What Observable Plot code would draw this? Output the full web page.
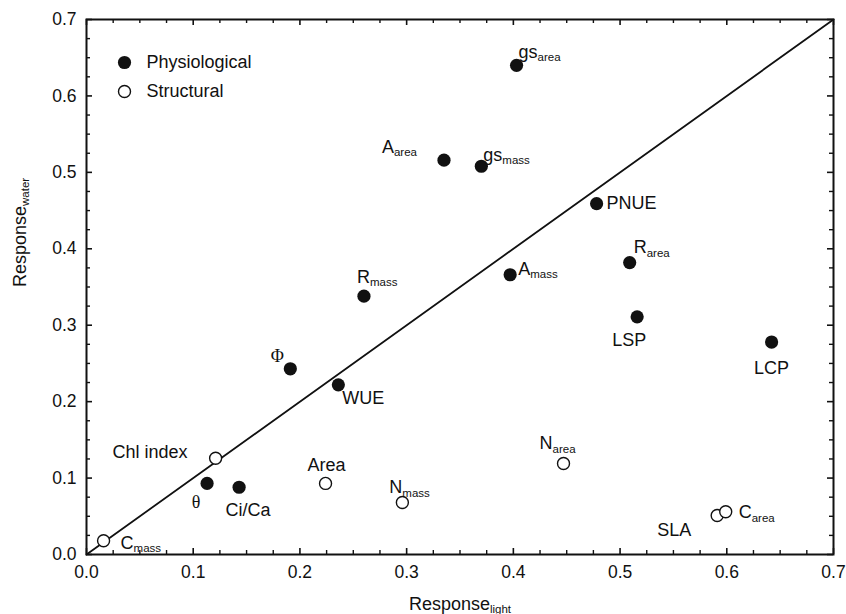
<!DOCTYPE html>
<html>
<head>
<meta charset="utf-8">
<script src="https://cdn.jsdelivr.net/npm/d3@7"></script>
<script src="https://cdn.jsdelivr.net/npm/@observablehq/plot@0.6"></script>
<style>
  body { margin: 0; background: #fff; }
  #chart svg { display: block; }
</style>
</head>
<body>
<div id="chart"></div>
<script>
// ---- data ----
const traits = ["gs_area", "A_area", "gs_mass", "PNUE", "R_area", "A_mass", "R_mass", "LSP", "LCP",
  "Φ", "WUE", "Chl index", "θ", "Ci/Ca", "Area", "N_mass", "C_mass", "N_area", "SLA", "C_area"];
const responseLight = [0.403, 0.335, 0.370, 0.478, 0.509, 0.397, 0.260, 0.516, 0.642,
  0.191, 0.236, 0.121, 0.113, 0.143, 0.224, 0.296, 0.016, 0.447, 0.591, 0.599];
const responseWater = [0.640, 0.516, 0.508, 0.459, 0.382, 0.366, 0.338, 0.311, 0.278,
  0.243, 0.222, 0.126, 0.093, 0.088, 0.093, 0.068, 0.018, 0.119, 0.051, 0.056];
const traitType = ["Physiological", "Physiological", "Physiological", "Physiological", "Physiological",
  "Physiological", "Physiological", "Physiological", "Physiological", "Physiological", "Physiological",
  "Structural", "Physiological", "Physiological", "Structural", "Structural", "Structural",
  "Structural", "Structural", "Structural"];
const legendItems = ["Physiological", "Structural"];
const axisTicks = [0, 0.1, 0.2, 0.3, 0.4, 0.5, 0.6, 0.7];
const minorTicks = [0.025, 0.05, 0.075, 0.125, 0.15, 0.175, 0.225, 0.25, 0.275, 0.325, 0.35, 0.375,
  0.425, 0.45, 0.475, 0.525, 0.55, 0.575, 0.625, 0.65, 0.675];
const xTitle = "Response_light";
const yTitle = "Response_water";
const serifLabels = ["Φ", "θ"];

// ---- label layout (text anchor, dx, dy in px relative to the point) ----
const labelLayout = {
  "gs_area": ["start", 2, -13],
  "A_area": ["end", -27, -13],
  "gs_mass": ["start", 2, -11],
  "PNUE": ["start", 10, 0],
  "R_area": ["start", 4, -15],
  "A_mass": ["start", 8, -6],
  "R_mass": ["start", -7, -19],
  "LSP": ["middle", -8, 23],
  "LCP": ["middle", 0, 26],
  "Φ": ["middle", -13, -13],
  "WUE": ["start", 4, 13],
  "Chl index": ["end", -28, -6],
  "θ": ["middle", -11, 19],
  "Ci/Ca": ["middle", 9, 23],
  "Area": ["middle", 1, -18],
  "N_mass": ["start", -13, -15],
  "C_mass": ["start", 17, 2],
  "N_area": ["start", -24, -20],
  "SLA": ["end", -26, 15],
  "C_area": ["start", 13, 1]
};

const rows = traits.map((t, i) => ({trait: t, light: responseLight[i], water: responseWater[i], type: traitType[i]}));
const domain = [axisTicks[0], axisTicks[axisTicks.length - 1]];
const font = "'Liberation Sans', Arial, Helvetica, sans-serif";
const serif = "'Liberation Serif', 'DejaVu Serif', serif";
const ink = "#111";
const labelSize = 18;
const subSize = 11.5;

const W = 846, H = 614, mL = 86, mR = 13, mT = 19, mB = 60;
const innerW = W - mL - mR, innerH = H - mT - mB;
const majorLen = 6, minorLen = 4;

const labelMarks = rows.map(r => {
  const [anchor, dx, dy] = labelLayout[r.trait];
  return Plot.text([r], {x: "light", y: "water", text: "trait", textAnchor: anchor, dx, dy,
    lineAnchor: "middle", fontSize: labelSize, fill: ink,
    fontFamily: serifLabels.includes(r.trait) ? serif : font});
});

// inward ticks on all four sides
const tickMarks = [];
for (const [vals, len, sw] of [[axisTicks, majorLen, 1.6], [minorTicks, minorLen, 1.4]]) {
  tickMarks.push(
    Plot.tickX(vals, {x: d => d, insetTop: innerH - len, stroke: ink, strokeWidth: sw}),      // bottom
    Plot.tickX(vals, {x: d => d, insetBottom: innerH - len, stroke: ink, strokeWidth: sw}),   // top
    Plot.tickY(vals, {y: d => d, insetRight: innerW - len, stroke: ink, strokeWidth: sw}),    // left
    Plot.tickY(vals, {y: d => d, insetLeft: innerW - len, stroke: ink, strokeWidth: sw})      // right
  );
}

const plot = Plot.plot({
  width: W,
  height: H,
  marginLeft: mL,
  marginRight: mR,
  marginTop: mT,
  marginBottom: mB,
  style: {fontFamily: font, fontSize: "17.5px", color: ink, background: "white", overflow: "visible"},
  x: {domain},
  y: {domain},
  marks: [
    // diagonal 1:1 line
    Plot.line(domain.map(v => [v, v]), {stroke: ink, strokeWidth: 1.8}),
    // tick labels
    Plot.axisX({ticks: axisTicks, tickSize: 0, tickPadding: 11, tickFormat: ".1f", label: null, fontSize: 17.5}),
    Plot.axisY({ticks: axisTicks, tickSize: 0, tickPadding: 10, tickFormat: ".1f", label: null, fontSize: 17.5}),
    ...tickMarks,
    Plot.frame({stroke: ink, strokeWidth: 2}),
    // axis titles
    Plot.text([xTitle], {text: d => d, frameAnchor: "bottom", dy: 50, lineAnchor: "middle", fontSize: labelSize, fill: ink}),
    Plot.text([yTitle], {text: d => d, frameAnchor: "left", dx: -66, rotate: -90, lineAnchor: "middle", fontSize: labelSize, fill: ink}),
    // points
    Plot.dot(rows, {x: "light", y: "water", filter: d => d.type === legendItems[0], r: 6.6, fill: ink, stroke: "none"}),
    Plot.dot(rows, {x: "light", y: "water", filter: d => d.type === legendItems[1], r: 6, fill: "white", stroke: ink, strokeWidth: 1.4}),
    // labels
    ...labelMarks,
    // legend
    Plot.dot([legendItems[0]], {frameAnchor: "top-left", dx: 38, dy: 43, r: 6.6, fill: ink, stroke: "none"}),
    Plot.dot([legendItems[1]], {frameAnchor: "top-left", dx: 38, dy: 72, r: 6, fill: "white", stroke: ink, strokeWidth: 1.4}),
    Plot.text([legendItems[0]], {text: d => d, frameAnchor: "top-left", dx: 60, dy: 43, textAnchor: "start", lineAnchor: "middle", fontSize: labelSize, fill: ink}),
    Plot.text([legendItems[1]], {text: d => d, frameAnchor: "top-left", dx: 60, dy: 72, textAnchor: "start", lineAnchor: "middle", fontSize: labelSize, fill: ink})
  ]
});

// subscripts: "main_sub" -> main + smaller lowered sub
d3.select(plot).selectAll("text").each(function () {
  if (this.childElementCount) return;
  const s = this.textContent;
  const i = s.indexOf("_");
  if (i < 0) return;
  const el = d3.select(this);
  el.text(null);
  el.append("tspan").text(s.slice(0, i));
  el.append("tspan").attr("font-size", subSize).attr("dy", "0.28em").text(s.slice(i + 1));
});

document.getElementById("chart").appendChild(plot);
</script>
</body>
</html>
